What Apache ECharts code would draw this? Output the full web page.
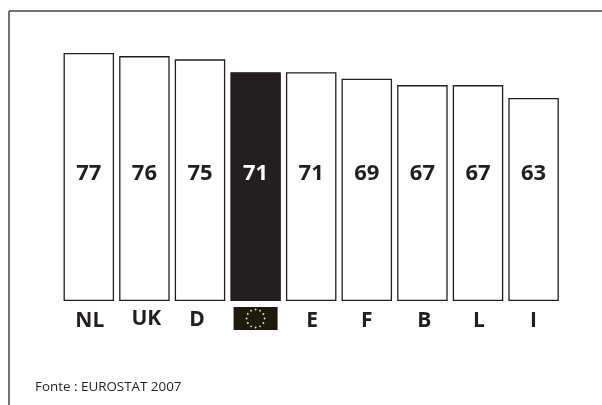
<!DOCTYPE html>
<html>
<head>
<meta charset="utf-8">
<style>html,body{margin:0;padding:0;background:#fff}#chart{width:602px;height:405px}</style>
<script src="https://cdn.jsdelivr.net/npm/echarts@6/dist/echarts.min.js"></script>
</head>
<body>
<div id="chart"></div>
<script>
const categories = ['NL', 'UK', 'D', 'EU', 'E', 'F', 'B', 'L', 'I'];
const values = [77, 76, 75, 71, 71, 69, 67, 67, 63];
const highlighted = 'EU';
const sourceText = 'Fonte : EUROSTAT 2007';

const ink = '#231f20';
const labelFont = '"Open Sans"';
const chart = echarts.init(document.getElementById('chart'), null, { renderer: 'canvas' });

// Hand-set tweaks to axis label placement, expressed as rich-text padding.
const tickStyle = padding => ({
  fontFamily: labelFont, fontWeight: 'bold', fontSize: 21, color: ink, padding
});
const tickRich = {
  NL: tickStyle([2, 0, 0, 2]),
  UK: tickStyle([0, 0, 0, 4]),
  D: tickStyle([1, 6, 0, 0]),
  E: tickStyle([2, 0, 0, 2]),
  F: tickStyle([2, 0, 0, 0]),
  B: tickStyle([2, 0, 0, 4]),
  L: tickStyle([2, 0, 0, 2]),
  I: tickStyle([2, 0, 0, 0])
};

chart.setOption({
  animation: false,
  backgroundColor: '#fff',
  grid: { left: 61, top: 11, width: 500.4, height: 290 },
  xAxis: {
    type: 'category',
    data: categories,
    axisLine: { show: false },
    axisTick: { show: false },
    axisLabel: {
      interval: 0,
      margin: 8,
      formatter: v => (v === highlighted ? '' : '{' + v + '|' + v + '}'),
      rich: tickRich
    }
  },
  yAxis: { type: 'value', min: 0, max: 90, show: false, splitLine: { show: false } },
  series: [{
    type: 'bar',
    barWidth: 50.5,
    // The highlighted column is filled dark and carries white text.
    data: values.map((v, i) => {
      const on = categories[i] === highlighted;
      return {
        value: v,
        itemStyle: { color: on ? ink : '#fff' },
        label: { color: on ? '#fff' : ink }
      };
    }),
    itemStyle: { borderColor: ink, borderWidth: 1.3 },
    label: {
      show: true,
      position: 'insideBottom',
      distance: 116,
      fontFamily: labelFont,
      fontWeight: 'bold',
      fontSize: 22,
      formatter: p => p.value
    }
  }]
});

const flagX = chart.convertToPixel({ xAxisIndex: 0 }, highlighted);
const flagY = 318.5;
const stars = [];
for (let k = 0; k < 12; k++) {
  const a = k * Math.PI / 6;
  stars.push({
    type: 'circle',
    shape: { cx: flagX + 9 * Math.sin(a), cy: flagY - 9 * Math.cos(a), r: 0.9 },
    style: { fill: '#e8e4d0' }
  });
}

chart.setOption({
  graphic: [
    // Open frame: top and left rules only.
    { type: 'line', shape: { x1: 9, y1: 11, x2: 602, y2: 11 }, style: { stroke: '#444', lineWidth: 1.5 } },
    { type: 'line', shape: { x1: 9, y1: 11, x2: 9, y2: 405 }, style: { stroke: '#444', lineWidth: 1.5 } },
    { type: 'rect', shape: { x: flagX - 22, y: flagY - 11.5, width: 44, height: 23 }, style: { fill: '#211a0c' } },
    ...stars,
    {
      type: 'text', x: 35, y: 387,
      style: { text: sourceText, fill: ink, font: '13.4px "Open Sans"', textVerticalAlign: 'middle' }
    }
  ]
});
</script>
</body>
</html>
